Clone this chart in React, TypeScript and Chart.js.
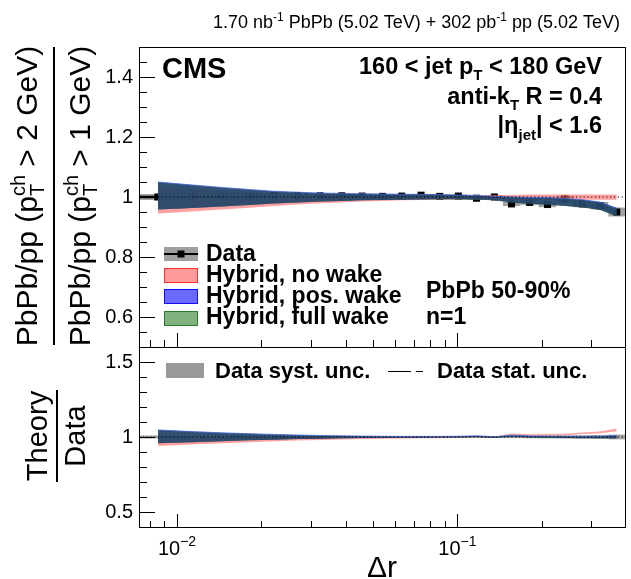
import React, { useEffect, useRef } from 'react';
import { Chart, registerables } from 'chart.js';

Chart.register(...registerables);

const FONT = '"Liberation Sans", Arial, Helvetica, sans-serif';

// ---------------- data ----------------
const deltaR = [0.00855, 0.01135, 0.01443, 0.0181, 0.0222, 0.0269, 0.0324, 0.0387, 0.0457, 0.054, 0.0633, 0.0742, 0.0865, 0.1008, 0.117, 0.1355, 0.156, 0.181, 0.2096, 0.2414, 0.279, 0.3225, 0.37];
const binEdges = [0.0065, 0.00985, 0.0128, 0.0162, 0.02, 0.0244, 0.0295, 0.0354, 0.0421, 0.0497, 0.0585, 0.0685, 0.0801, 0.0934, 0.1086, 0.1259, 0.1454, 0.168, 0.1948, 0.2249, 0.2595, 0.30, 0.3454, 0.396];
const dataRatio = [1.0, 1.003, 1.003, 1.003, 1.005, 1.005, 1.004, 1.004, 1.003, 1.002, 1.003, 1.006, 1.002, 1.003, 0.996, 1.0, 0.977, 0.982, 0.975, 0.994, 0.977, 0.971, 0.95];
const dataStat = [0.002, 0.002, 0.002, 0.002, 0.002, 0.002, 0.002, 0.002, 0.002, 0.002, 0.002, 0.003, 0.003, 0.003, 0.003, 0.003, 0.004, 0.004, 0.004, 0.005, 0.005, 0.006, 0.007];
const dataSyst = [0.010, 0.005, 0.004, 0.004, 0.004, 0.004, 0.004, 0.004, 0.004, 0.004, 0.004, 0.004, 0.005, 0.005, 0.005, 0.006, 0.007, 0.008, 0.009, 0.010, 0.011, 0.0125, 0.015];

// Hybrid model bands, PbPb/pp
const noWakeHi = [1.030, 1.025, 1.020, 1.015, 1.012, 1.010, 1.008, 1.006, 1.005, 1.005, 1.005, 1.005, 1.006, 1.006, 1.006, 1.007, 1.007, 1.008, 1.008, 1.008, 1.008, 1.008, 1.008];
const noWakeLo = [0.945, 0.952, 0.958, 0.964, 0.970, 0.975, 0.979, 0.982, 0.985, 0.987, 0.989, 0.990, 0.991, 0.992, 0.992, 0.992, 0.991, 0.991, 0.991, 0.991, 0.991, 0.991, 0.991];
const posWakeHi = [1.050, 1.040, 1.032, 1.025, 1.019, 1.016, 1.013, 1.012, 1.011, 1.010, 1.009, 1.009, 1.008, 1.007, 1.005, 1.002, 1.000, 0.998, 0.998, 0.995, 0.991, 0.983, 0.963];
const posWakeLo = [0.958, 0.963, 0.968, 0.973, 0.978, 0.982, 0.985, 0.987, 0.989, 0.990, 0.991, 0.992, 0.993, 0.993, 0.992, 0.990, 0.982, 0.978, 0.975, 0.971, 0.966, 0.958, 0.937];
const fullWakeHi = [1.049, 1.039, 1.031, 1.024, 1.018, 1.015, 1.012, 1.011, 1.010, 1.009, 1.008, 1.008, 1.007, 1.006, 1.004, 1.001, 0.999, 0.997, 0.997, 0.994, 0.990, 0.982, 0.962];
const fullWakeLo = [0.958, 0.963, 0.968, 0.973, 0.978, 0.982, 0.985, 0.987, 0.989, 0.990, 0.991, 0.992, 0.992, 0.992, 0.991, 0.989, 0.981, 0.977, 0.974, 0.970, 0.965, 0.957, 0.936];

// Theory / Data
const ratioNoWakeHi = [0.990, 0.990, 0.995, 0.997, 0.998, 0.999, 0.999, 1.000, 1.000, 1.000, 1.001, 1.001, 1.002, 1.003, 1.007, 1.002, 1.024, 1.018, 1.020, 1.022, 1.030, 1.036, 1.056];
const ratioNoWakeLo = [0.940, 0.950, 0.958, 0.965, 0.971, 0.976, 0.980, 0.983, 0.986, 0.988, 0.990, 0.991, 0.992, 0.994, 0.997, 0.994, 1.012, 1.008, 1.010, 1.012, 1.020, 1.025, 1.038];
const ratioPosWakeHi = [1.047, 1.036, 1.028, 1.022, 1.017, 1.013, 1.010, 1.008, 1.006, 1.005, 1.004, 1.004, 1.004, 1.005, 1.008, 1.002, 1.012, 1.007, 1.006, 1.005, 1.004, 1.005, 1.010];
const ratioPosWakeLo = [0.958, 0.965, 0.972, 0.978, 0.982, 0.986, 0.989, 0.991, 0.993, 0.994, 0.995, 0.995, 0.996, 0.997, 1.000, 0.995, 1.003, 0.997, 0.996, 0.994, 0.993, 0.993, 0.992];
const ratioFullWakeHi = [1.046, 1.035, 1.027, 1.021, 1.016, 1.012, 1.009, 1.007, 1.005, 1.004, 1.003, 1.003, 1.003, 1.004, 1.007, 1.001, 1.011, 1.006, 1.005, 1.004, 1.003, 1.004, 1.008];
const ratioFullWakeLo = [0.958, 0.965, 0.972, 0.978, 0.982, 0.986, 0.989, 0.991, 0.993, 0.994, 0.995, 0.995, 0.996, 0.997, 0.999, 0.994, 1.002, 0.996, 0.995, 0.993, 0.992, 0.992, 0.990];

// axes
const X_MIN = 0.00732;
const X_MAX = 0.396;
const xMajorTicks = [0.01, 0.1];
const xMajorExponents = ['\u22122', '\u22121'];
const xMinorTicks = [0.008, 0.009, 0.02, 0.03, 0.04, 0.05, 0.06, 0.07, 0.08, 0.09, 0.2, 0.3];
const upperYTicks = [0.6, 0.8, 1, 1.2, 1.4];
const upperYMinor = [0.55, 0.65, 0.7, 0.75, 0.85, 0.9, 0.95, 1.05, 1.1, 1.15, 1.25, 1.3, 1.35, 1.45];
const lowerYTicks = [0.5, 1, 1.5];
const lowerYMinor = [0.6, 0.7, 0.8, 0.9, 1.1, 1.2, 1.3, 1.4];

// ---------------- helpers ----------------
type Seg = { t: string; s: number; b?: boolean; dy?: number; noAdv?: boolean };
const fnt = (s: number, b?: boolean) => `${b ? 'bold ' : ''}${s}px ${FONT}`;

function drawSegs(ctx: CanvasRenderingContext2D, segs: Seg[], x: number, y: number, align: 'left' | 'right' | 'center') {
  ctx.textAlign = 'left';
  ctx.textBaseline = 'alphabetic';
  const widths = segs.map((g) => {
    ctx.font = fnt(g.s, g.b);
    return ctx.measureText(g.t).width;
  });
  const total = segs.reduce((acc, g, i) => acc + (g.noAdv ? 0 : widths[i]), 0);
  let cx = align === 'left' ? x : align === 'right' ? x - total : x - total / 2;
  segs.forEach((g, i) => {
    ctx.font = fnt(g.s, g.b);
    ctx.fillText(g.t, cx, y + (g.dy || 0));
    if (!g.noAdv) cx += widths[i];
  });
}

function drawRotated(ctx: CanvasRenderingContext2D, segs: Seg[], x: number, y: number) {
  ctx.save();
  ctx.translate(x, y);
  ctx.rotate(-Math.PI / 2);
  drawSegs(ctx, segs, 0, 0, 'center');
  ctx.restore();
}

function drawFrameAndTicks(chart: any, yMaj: number[], yMin: number[], yMajLen: number, yMinLen: number, xMajLen: number, xMinLen: number) {
  const { ctx, chartArea: a, scales } = chart;
  const xs = scales.x, ys = scales.y;
  ctx.save();
  ctx.strokeStyle = '#000';
  ctx.lineWidth = 1;
  ctx.setLineDash([]);
  ctx.beginPath();
  yMaj.forEach((v) => { const p = Math.round(ys.getPixelForValue(v)) + 0.5; ctx.moveTo(a.left, p); ctx.lineTo(a.left + yMajLen, p); });
  yMin.forEach((v) => { const p = Math.round(ys.getPixelForValue(v)) + 0.5; ctx.moveTo(a.left, p); ctx.lineTo(a.left + yMinLen, p); });
  xMajorTicks.forEach((v) => { const p = Math.round(xs.getPixelForValue(v)) + 0.5; ctx.moveTo(p, a.bottom); ctx.lineTo(p, a.bottom - xMajLen); });
  xMinorTicks.forEach((v) => { const p = Math.round(xs.getPixelForValue(v)) + 0.5; ctx.moveTo(p, a.bottom); ctx.lineTo(p, a.bottom - xMinLen); });
  ctx.stroke();
  ctx.strokeRect(Math.round(a.left) + 0.5, Math.round(a.top) + 0.5, Math.round(a.right - a.left), Math.round(a.bottom - a.top));
  ctx.restore();
}

function drawUnityLine(chart: any) {
  const { ctx, chartArea: a, scales } = chart;
  const p = scales.y.getPixelForValue(1);
  ctx.save();
  ctx.strokeStyle = '#000';
  ctx.lineWidth = 1.2;
  ctx.setLineDash([1.2, 2.6]);
  ctx.beginPath();
  ctx.moveTo(a.left, p);
  ctx.lineTo(a.right, p);
  ctx.stroke();
  ctx.restore();
}

function drawSystBoxes(chart: any, center: number[], err: number[], color: string) {
  const { ctx, chartArea: a, scales } = chart;
  const xs = scales.x, ys = scales.y;
  ctx.save();
  ctx.beginPath();
  ctx.rect(a.left, a.top, a.right - a.left, a.bottom - a.top);
  ctx.clip();
  ctx.fillStyle = color;
  center.forEach((c, i) => {
    const x0 = xs.getPixelForValue(binEdges[i]);
    const x1 = xs.getPixelForValue(binEdges[i + 1]);
    const y0 = ys.getPixelForValue(c + err[i]);
    const y1 = ys.getPixelForValue(c - err[i]);
    ctx.fillRect(x0, y0, x1 - x0, y1 - y0);
  });
  ctx.restore();
}

function band(values: number[], color: string, order: number, fill: any, border = 'rgba(0,0,0,0)', bw = 0) {
  return {
    data: deltaR.map((x, i) => ({ x, y: values[i] })),
    backgroundColor: color,
    borderColor: border,
    borderWidth: bw,
    pointRadius: 0,
    fill,
    order,
    tension: 0,
  };
}

const baseScaleOpts = (yMin: number, yMax: number, yTicks: number[], xHeight: number) => ({
  x: {
    type: 'logarithmic',
    min: X_MIN,
    max: X_MAX,
    bounds: 'data',
    ticks: { display: false },
    grid: { display: false, drawTicks: false },
    border: { display: false },
    afterFit: (s: any) => { s.height = xHeight; },
  },
  y: {
    type: 'linear',
    min: yMin,
    max: yMax,
    bounds: 'data',
    afterBuildTicks: (s: any) => { s.ticks = yTicks.map((v) => ({ value: v })); },
    ticks: {
      font: { family: FONT, size: 20 },
      color: '#000',
      padding: 6,
      callback: (v: any) => String(Math.round(Number(v) * 100) / 100),
    },
    grid: { display: false, drawTicks: false },
    border: { display: false },
    afterFit: (s: any) => { s.width = 139; },
  },
});

// ---------------- upper panel ----------------
const upperDecor = {
  id: 'upperDecor',
  beforeDatasetsDraw(chart: any) {
    drawSystBoxes(chart, dataRatio, dataSyst, 'rgba(140,140,140,0.8)');
    const { ctx, chartArea: a, scales } = chart;
    const xs = scales.x, ys = scales.y;
    ctx.save();
    ctx.beginPath();
    ctx.rect(a.left, a.top, a.right - a.left, a.bottom - a.top);
    ctx.clip();
    ctx.strokeStyle = '#000';
    // horizontal bar of the first bin
    ctx.lineWidth = 2.5;
    ctx.beginPath();
    const yp = ys.getPixelForValue(dataRatio[0]);
    ctx.moveTo(xs.getPixelForValue(binEdges[0]), yp);
    ctx.lineTo(xs.getPixelForValue(deltaR[0]), yp);
    ctx.stroke();
    ctx.lineWidth = 1.5;
    ctx.beginPath();
    deltaR.forEach((x, i) => {
      const px = xs.getPixelForValue(x);
      ctx.moveTo(px, ys.getPixelForValue(dataRatio[i] + dataStat[i]));
      ctx.lineTo(px, ys.getPixelForValue(dataRatio[i] - dataStat[i]));
    });
    ctx.stroke();
    ctx.restore();
  },
  afterDatasetsDraw(chart: any) {
    drawUnityLine(chart);
    drawFrameAndTicks(chart, upperYTicks, upperYMinor, 16, 8, 14, 7);
  },
  afterDraw(chart: any) {
    const { ctx } = chart;
    ctx.save();
    ctx.fillStyle = '#000';
    // header
    drawSegs(ctx, [
      { t: '1.70 nb', s: 18 }, { t: '-1', s: 12, dy: -7 },
      { t: ' PbPb (5.02 TeV) + 302 pb', s: 18 }, { t: '-1', s: 12, dy: -7 },
      { t: ' pp (5.02 TeV)', s: 18 },
    ], 620, 28, 'right');
    drawSegs(ctx, [{ t: 'CMS', s: 29, b: true }], 162, 78, 'left');
    drawSegs(ctx, [{ t: '160 < jet p', s: 23.5, b: true }, { t: 'T', s: 15, b: true, dy: 6 }, { t: ' < 180 GeV', s: 23.5, b: true }], 602, 74, 'right');
    drawSegs(ctx, [{ t: 'anti-k', s: 23.5, b: true }, { t: 'T', s: 15, b: true, dy: 6 }, { t: ' R = 0.4', s: 23.5, b: true }], 602, 104, 'right');
    drawSegs(ctx, [{ t: '|\u03b7', s: 23.5, b: true }, { t: 'jet', s: 15, b: true, dy: 7 }, { t: '| < 1.6', s: 23.5, b: true }], 602, 133, 'right');

    // legend
    ctx.fillStyle = '#a0a0a0';
    ctx.fillRect(164, 247, 34, 14);
    ctx.strokeStyle = '#000';
    ctx.lineWidth = 2;
    ctx.beginPath();
    ctx.moveTo(164, 254);
    ctx.lineTo(198, 254);
    ctx.stroke();
    ctx.fillStyle = '#000';
    ctx.fillRect(177.5, 250.5, 7, 7);
    const boxes: [string, string, number][] = [
      ['#ff9a9a', '#ff3030', 268],
      ['#6a6aff', '#1010ff', 289],
      ['#80b380', '#2a7a2a', 311],
    ];
    boxes.forEach(([f, s, y]) => {
      ctx.fillStyle = f;
      ctx.fillRect(164, y, 34, 15);
      ctx.strokeStyle = s;
      ctx.lineWidth = 1;
      ctx.strokeRect(164.5, y + 0.5, 33, 14);
    });
    ctx.fillStyle = '#000';
    drawSegs(ctx, [{ t: 'Data', s: 23, b: true }], 206, 261, 'left');
    drawSegs(ctx, [{ t: 'Hybrid, no wake', s: 23, b: true }], 206, 282, 'left');
    drawSegs(ctx, [{ t: 'Hybrid, pos. wake', s: 23, b: true }], 206, 303, 'left');
    drawSegs(ctx, [{ t: 'Hybrid, full wake', s: 23, b: true }], 206, 324, 'left');
    drawSegs(ctx, [{ t: 'PbPb 50-90%', s: 23, b: true }], 426, 298, 'left');
    drawSegs(ctx, [{ t: 'n=1', s: 23, b: true }], 426, 324, 'left');

    // y title (fraction)
    drawRotated(ctx, [{ t: 'PbPb/pp (p', s: 30 }, { t: 'T', s: 20, dy: 7, noAdv: true }, { t: 'ch', s: 20, dy: -12 }, { t: ' > 2 GeV)', s: 30 }], 37, 196);
    drawRotated(ctx, [{ t: 'PbPb/pp (p', s: 30 }, { t: 'T', s: 20, dy: 7, noAdv: true }, { t: 'ch', s: 20, dy: -12 }, { t: ' > 1 GeV)', s: 30 }], 90, 196);
    ctx.fillRect(53, 47, 2, 298);
    ctx.restore();
  },
};

function makeUpper(canvas: HTMLCanvasElement) {
  return new Chart(canvas, {
    type: 'line',
    data: {
      datasets: [
        {
          data: deltaR.map((x, i) => ({ x, y: dataRatio[i] })),
          showLine: false,
          pointStyle: 'rect',
          pointRadius: 5,
          pointBackgroundColor: '#000',
          pointBorderColor: '#000',
          pointBorderWidth: 0,
          order: 10,
        },
        band(noWakeHi, 'rgba(255,110,110,0.65)', 5, '+1'),
        band(noWakeLo, 'rgba(255,110,110,0.65)', 5, false),
        band(fullWakeHi, 'rgba(25,80,60,0.75)', 4, '+1'),
        band(fullWakeLo, 'rgba(25,80,60,0.75)', 4, false),
        band(posWakeHi, 'rgba(40,70,115,0.8)', 3, '+1', 'rgba(70,100,220,0.8)', 1),
        band(posWakeLo, 'rgba(40,70,115,0.8)', 3, false),
      ] as any,
    },
    options: {
      animation: false,
      responsive: false,
      maintainAspectRatio: false,
      events: [],
      layout: { padding: { top: 47, right: 6, bottom: 0, left: 0 } },
      plugins: { legend: { display: false }, tooltip: { enabled: false } },
      scales: baseScaleOpts(0.5, 1.5, upperYTicks, 232) as any,
    },
    plugins: [upperDecor],
  });
}

// ---------------- lower panel ----------------
const lowerSyst = dataSyst.map((s, i) => s / dataRatio[i]);

const lowerDecor = {
  id: 'lowerDecor',
  beforeDatasetsDraw(chart: any) {
    drawSystBoxes(chart, dataRatio.map(() => 1), lowerSyst, 'rgba(140,140,140,0.8)');
  },
  afterDatasetsDraw(chart: any) {
    drawUnityLine(chart);
    drawFrameAndTicks(chart, lowerYTicks, lowerYMinor, 16, 8, 13, 6);
  },
  afterDraw(chart: any) {
    const { ctx, scales } = chart;
    ctx.save();
    ctx.fillStyle = '#000';
    // legend
    ctx.fillStyle = '#999999';
    ctx.fillRect(166, 363, 38, 15);
    ctx.fillStyle = '#000';
    drawSegs(ctx, [{ t: 'Data syst. unc.', s: 22, b: true }], 215, 378, 'left');
    ctx.strokeStyle = '#000';
    ctx.lineWidth = 1;
    ctx.setLineDash([23, 5, 7, 100]);
    ctx.beginPath();
    ctx.moveTo(388, 371.5);
    ctx.lineTo(424, 371.5);
    ctx.stroke();
    ctx.setLineDash([]);
    drawSegs(ctx, [{ t: 'Data stat. unc.', s: 22, b: true }], 437, 378, 'left');

    // y title
    drawRotated(ctx, [{ t: 'Theory', s: 29 }], 47, 436);
    drawRotated(ctx, [{ t: 'Data', s: 29 }], 85, 436);
    ctx.fillRect(56, 390, 2, 92);

    // x tick labels
    xMajorTicks.forEach((v, i) => {
      const p = scales.x.getPixelForValue(v);
      drawSegs(ctx, [{ t: '10', s: 20 }, { t: xMajorExponents[i], s: 14, dy: -9 }], p, 555, 'center');
    });
    // x title
    drawSegs(ctx, [{ t: '\u0394r', s: 30 }], 382, 577, 'center');
    ctx.restore();
  },
};

function makeLower(canvas: HTMLCanvasElement) {
  return new Chart(canvas, {
    type: 'line',
    data: {
      datasets: [
        band(ratioNoWakeHi, 'rgba(255,110,110,0.65)', 5, '+1'),
        band(ratioNoWakeLo, 'rgba(255,110,110,0.65)', 5, false),
        band(ratioFullWakeHi, 'rgba(25,80,60,0.75)', 4, '+1'),
        band(ratioFullWakeLo, 'rgba(25,80,60,0.75)', 4, false),
        band(ratioPosWakeHi, 'rgba(40,70,115,0.8)', 3, '+1', 'rgba(70,100,220,0.8)', 1),
        band(ratioPosWakeLo, 'rgba(40,70,115,0.8)', 3, false),
      ] as any,
    },
    options: {
      animation: false,
      responsive: false,
      maintainAspectRatio: false,
      events: [],
      layout: { padding: { top: 347, right: 6, bottom: 0, left: 0 } },
      plugins: { legend: { display: false }, tooltip: { enabled: false } },
      scales: baseScaleOpts(0.4, 1.6, lowerYTicks, 52) as any,
    },
    plugins: [lowerDecor],
  });
}

export default function App() {
  const upRef = useRef<HTMLCanvasElement>(null);
  const loRef = useRef<HTMLCanvasElement>(null);
  useEffect(() => {
    const c1 = makeUpper(upRef.current as HTMLCanvasElement);
    const c2 = makeLower(loRef.current as HTMLCanvasElement);
    return () => {
      c1.destroy();
      c2.destroy();
    };
  }, []);
  return (
    <div style={{ position: 'fixed', left: 0, top: 0, width: 631, height: 579, background: '#fff' }}>
      <canvas ref={upRef} width={631} height={579} style={{ position: 'absolute', left: 0, top: 0 }} />
      <canvas ref={loRef} width={631} height={579} style={{ position: 'absolute', left: 0, top: 0 }} />
    </div>
  );
}
